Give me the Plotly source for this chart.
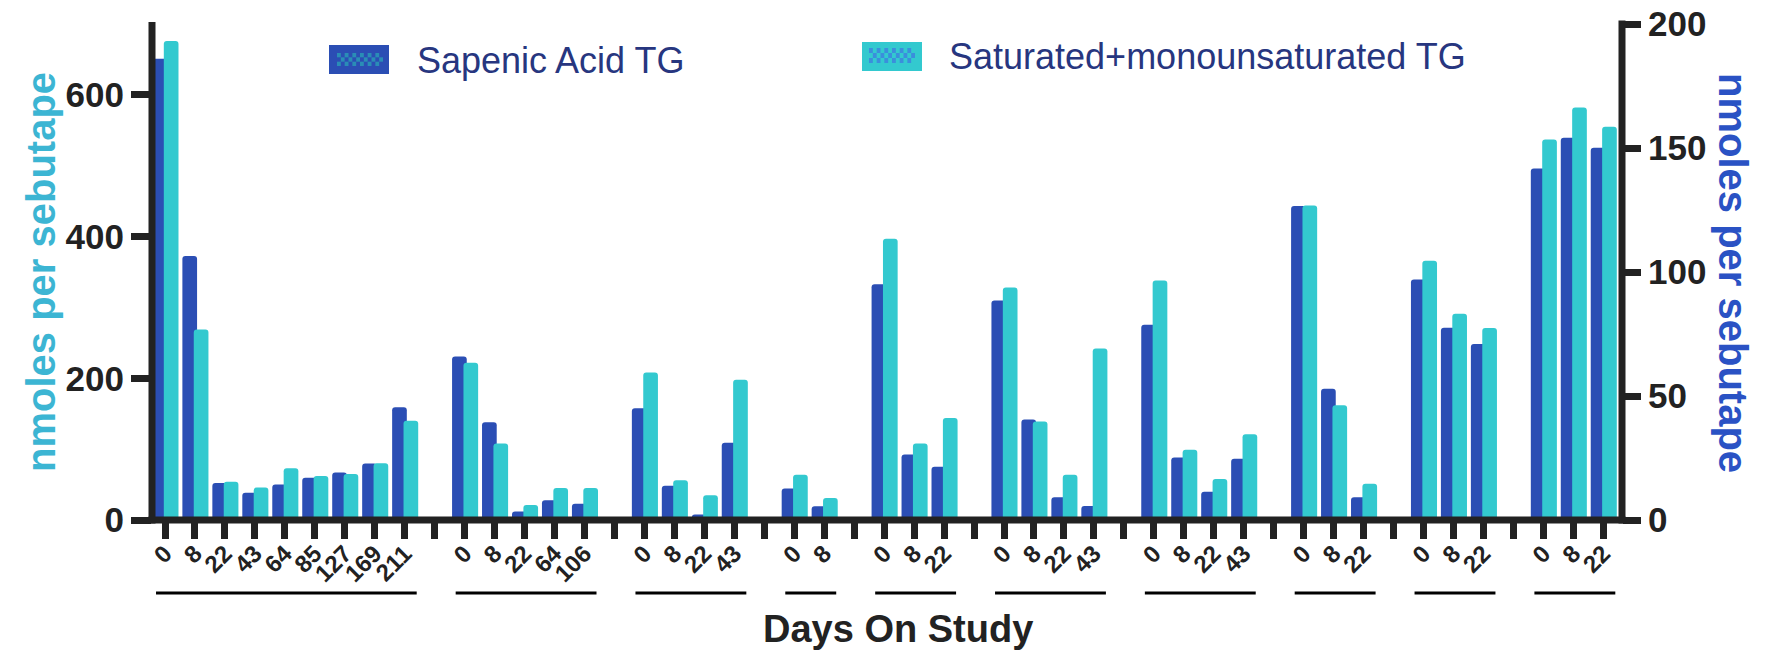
import plotly.graph_objects as go

# ---------------- data ----------------
group_days = [
    ["0", "8", "22", "43", "64", "85", "127", "169", "211"],
    ["0", "8", "22", "64", "106"],
    ["0", "8", "22", "43"],
    ["0", "8"],
    ["0", "8", "22"],
    ["0", "8", "22", "43"],
    ["0", "8", "22", "43"],
    ["0", "8", "22"],
    ["0", "8", "22"],
    ["0", "8", "22"],
]
# Sapenic Acid TG (right axis, nmoles per sebutape)
sapenic_tg = [
    [186.0, 106.5, 14.9, 11.0, 14.3, 17.0, 19.2, 22.8, 45.5],
    [65.9, 39.4, 3.4, 8.0, 6.6],
    [45.1, 13.8, 2.2, 31.1],
    [12.7, 5.5],
    [95.1, 26.4, 21.5],
    [88.5, 40.5, 9.2, 5.6],
    [78.7, 25.2, 11.4, 24.7],
    [126.6, 52.9, 9.2],
    [97.0, 77.5, 71.0],
    [141.7, 154.1, 150.1],
]
# Saturated+monounsaturated TG (left axis, nmoles per sebutape)
satmono_tg = [
    [676, 269, 54, 46, 73, 62, 65, 80, 140],
    [222, 108, 21, 45, 45],
    [208, 56, 35, 198],
    [64, 31],
    [397, 108, 144],
    [328, 139, 64, 242],
    [338, 99, 58, 121],
    [444, 162, 51],
    [366, 291, 271],
    [537, 582, 555],
]
series_names = ["Sapenic Acid TG", "Saturated+monounsaturated TG"]
left_ticks = [0, 200, 400, 600]
right_ticks = [0, 50, 100, 150, 200]

# ---------------- build categorical slots (with blank gap slots) ----------------
labels, sap, sat, group_spans = [], [], [], []
for gi, days in enumerate(group_days):
    if gi > 0:
        labels.append("")
        sap.append(None)
        sat.append(None)
    start = len(labels)
    for d, a, b in zip(days, sapenic_tg[gi], satmono_tg[gi]):
        labels.append(d)
        sap.append(a)
        sat.append(b)
    group_spans.append((start, len(labels) - 1))
xpos = list(range(len(labels)))

# ---------------- layout geometry ----------------
W, H = 1767, 657
L, R, T, B = 152, 1622, 24, 520
PW, PH = R - L, B - T
xr0 = -0.434
xr1 = xr0 + PW / 29.965

def px2x(px):
    return (px - L) / PW

def py2y(py):
    return (B - py) / PH

BLUE = "#2b4eb4"
CYAN = "#33c9cf"
AXC = "#222222"
FONT = "Liberation Sans, Arial, sans-serif"

fig = go.Figure()
fig.add_trace(go.Bar(
    x=xpos, y=sap, name=series_names[0], yaxis="y",
    marker=dict(color=BLUE, line=dict(width=0)),
    width=0.49, offset=-0.42, showlegend=False,
))
fig.add_trace(go.Bar(
    x=xpos, y=sat, name=series_names[1], yaxis="y2",
    marker=dict(color=CYAN, line=dict(width=0)),
    width=0.49, offset=-0.04, showlegend=False,
))

shapes = []
# axis lines
shapes.append(dict(type="line", xref="paper", yref="paper",
                   x0=px2x(L - 3.5), x1=px2x(R + 3.5), y0=0, y1=0,
                   line=dict(color=AXC, width=7), layer="above"))
shapes.append(dict(type="line", xref="paper", yref="paper",
                   x0=0, x1=0, y0=py2y(B + 3.5), y1=py2y(T - 2),
                   line=dict(color=AXC, width=7), layer="above"))
shapes.append(dict(type="line", xref="paper", yref="paper",
                   x0=1, x1=1, y0=py2y(B + 3.5), y1=py2y(T - 3.5),
                   line=dict(color=AXC, width=7), layer="above"))
# group underlines
for s, e in group_spans:
    shapes.append(dict(type="line", xref="x", yref="paper",
                       x0=s - 0.3, x1=e + 0.4, y0=py2y(593), y1=py2y(593),
                       line=dict(color="#000000", width=3)))

# legend swatches with checker pattern
def swatch(x0, y0, x1, y1, ix0, iy0, ix1, iy1, base, alt, nx=12, ny=3):
    out = [dict(type="rect", xref="paper", yref="paper",
                x0=px2x(x0), x1=px2x(x1), y0=py2y(y1), y1=py2y(y0),
                fillcolor=base, line=dict(width=0))]
    cw = (ix1 - ix0) / nx
    ch = (iy1 - iy0) / ny
    for i in range(nx):
        for j in range(ny):
            if (i + j) % 2 == 0:
                out.append(dict(type="rect", xref="paper", yref="paper",
                                x0=px2x(ix0 + i * cw), x1=px2x(ix0 + (i + 1) * cw),
                                y0=py2y(iy0 + (j + 1) * ch), y1=py2y(iy0 + j * ch),
                                fillcolor=alt, line=dict(width=0)))
    return out

shapes += swatch(329, 45, 389, 74, 337, 53, 383, 66, BLUE, "#2a8db6")
shapes += swatch(862, 42, 922, 71, 869, 48, 915, 63, CYAN, "#3a8fdc")

LEG = "#27367f"
annotations = [
    dict(text=series_names[0], xref="paper", yref="paper", x=px2x(415), y=py2y(60),
         xanchor="left", yanchor="middle", showarrow=False,
         font=dict(family=FONT, size=36, color=LEG)),
    dict(text=series_names[1], xref="paper", yref="paper", x=px2x(947), y=py2y(56),
         xanchor="left", yanchor="middle", showarrow=False,
         font=dict(family=FONT, size=36, color=LEG)),
    dict(text="nmoles per sebutape", xref="paper", yref="paper", x=px2x(41), y=py2y(272),
         xanchor="center", yanchor="middle", showarrow=False, textangle=-90,
         font=dict(family=FONT, size=40, color="#3cb5d3", weight="bold")),
    dict(text="nmoles per sebutape", xref="paper", yref="paper", x=px2x(1733), y=py2y(273),
         xanchor="center", yanchor="middle", showarrow=False, textangle=90,
         font=dict(family=FONT, size=40, color="#2a52c4", weight="bold")),
    dict(text="Days On Study", xref="paper", yref="paper", x=px2x(898), y=py2y(629),
         xanchor="center", yanchor="middle", showarrow=False,
         font=dict(family=FONT, size=38, color=AXC, weight="bold")),
]

fig.update_layout(
    width=W, height=H,
    margin=dict(l=L, r=W - R, t=T, b=H - B, autoexpand=False),
    paper_bgcolor="white", plot_bgcolor="white",
    barmode="overlay", barcornerradius=3,
    showlegend=False,
    font=dict(family=FONT, color=AXC),
    xaxis=dict(
        range=[xr0, xr1], tickmode="array", tickvals=xpos, ticktext=labels,
        tickangle=-45, ticks="outside", ticklen=18, tickwidth=7, tickcolor=AXC,
        ticklabelstandoff=-9,
        showline=False, showgrid=False, zeroline=False, automargin=False,
        tickfont=dict(family=FONT, size=24, color=AXC, weight="bold"),
        anchor="y",
    ),
    yaxis=dict(
        range=[0, 200], side="right", tickmode="array", tickvals=right_ticks,
        ticks="outside", ticklen=18, tickwidth=7, tickcolor=AXC,
        showline=False, showgrid=False, zeroline=False, automargin=False,
        tickfont=dict(family=FONT, size=35, color=AXC, weight="bold"),
    ),
    yaxis2=dict(
        range=[0, 700], side="left", overlaying="y", tickmode="array", tickvals=left_ticks,
        ticks="outside", ticklen=20, tickwidth=7, tickcolor=AXC,
        showline=False, showgrid=False, zeroline=False, automargin=False,
        tickfont=dict(family=FONT, size=35, color=AXC, weight="bold"),
    ),
    shapes=shapes,
    annotations=annotations,
)

fig.write_html("out.html")
